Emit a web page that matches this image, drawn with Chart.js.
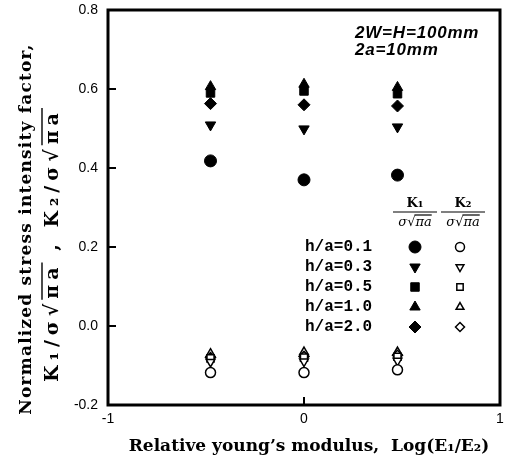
<!DOCTYPE html>
<html>
<head>
<meta charset="utf-8">
<script src="https://cdn.jsdelivr.net/npm/chart.js@4.4.1/dist/chart.umd.min.js"></script>
<style>
  body { margin: 0; background: #fff; }
  canvas { display: block; }
</style>
</head>
<body>
<canvas id="chart" width="507" height="462"></canvas>
<script>
// log(E1/E2) positions
var logRatio = [-0.477, 0, 0.477];

// K1 (filled markers)
var k1_h01 = [0.418, 0.370, 0.382];
var k1_h03 = [0.509, 0.499, 0.504];
var k1_h05 = [0.590, 0.595, 0.588];
var k1_h10 = [0.606, 0.612, 0.604];
var k1_h20 = [0.563, 0.560, 0.557];

// K2 (open markers)
var k2_h01 = [-0.118, -0.118, -0.111];
var k2_h03 = [-0.091, -0.090, -0.088];
var k2_h05 = [-0.082, -0.080, -0.078];
var k2_h10 = [-0.070, -0.066, -0.066];
var k2_h20 = [-0.080, -0.077, -0.074];

var ratioLabels = ['h/a=0.1', 'h/a=0.3', 'h/a=0.5', 'h/a=1.0', 'h/a=2.0'];
var xTicks = [-1, 0, 1];
var yTicks = [-0.2, 0.0, 0.2, 0.4, 0.6, 0.8];

var styles = [
    { pointStyle: 'circle', rotation: 0, radius: 6 },
    { pointStyle: 'triangle', rotation: 180, radius: 6 },
    { pointStyle: 'rect', rotation: 0, radius: 6 },
    { pointStyle: 'triangle', rotation: 0, radius: 6 },
    { pointStyle: 'rectRot', rotation: 0, radius: 6 }
];

function pts(vals) {
    return vals.map(function(v, i) { return { x: logRatio[i], y: v }; });
}

var k1 = [k1_h01, k1_h03, k1_h05, k1_h10, k1_h20];
var k2 = [k2_h01, k2_h03, k2_h05, k2_h10, k2_h20];
var order = [0, 1, 2, 4, 3];   // draw up-triangles last so they sit on top

var datasets = [];
order.forEach(function(i) {
    datasets.push({
        label: 'K1 ' + ratioLabels[i],
        data: pts(k1[i]),
        pointStyle: styles[i].pointStyle,
        rotation: styles[i].rotation,
        pointRadius: styles[i].radius,
        backgroundColor: '#000',
        borderColor: '#000',
        borderWidth: 1
    });
});
order.forEach(function(i) {
    datasets.push({
        label: 'K2 ' + ratioLabels[i],
        data: pts(k2[i]),
        pointStyle: styles[i].pointStyle,
        rotation: styles[i].rotation,
        pointRadius: styles[i].radius - 1,
        backgroundColor: '#fff',
        borderColor: '#000',
        borderWidth: 1.5
    });
});

function drawMarker(ctx, st, r, x, y, filled) {
    ctx.fillStyle = filled ? '#000' : '#fff';
    ctx.strokeStyle = '#000';
    ctx.lineWidth = filled ? 1 : 1.5;
    Chart.helpers.drawPoint(ctx, { pointStyle: st.pointStyle, rotation: st.rotation, radius: r, borderWidth: ctx.lineWidth }, x, y);
}

// text with an overbar on the pieces flagged true
function drawPieces(ctx, pieces, x, y, align) {
    var total = 0;
    pieces.forEach(function(p) { total += ctx.measureText(p[0]).width; });
    var cx = align === 'center' ? x - total / 2 : x;
    ctx.textAlign = 'left';
    pieces.forEach(function(p) {
        var w = ctx.measureText(p[0]).width;
        ctx.fillText(p[0], cx, y);
        if (p[1]) {
            var top = y - p[2];
            ctx.beginPath();
            ctx.moveTo(cx - 1, top);
            ctx.lineTo(cx + w, top);
            ctx.stroke();
        }
        cx += w;
    });
}

function noPad(scale) {
    scale.paddingLeft = 0;
    scale.paddingRight = 0;
    scale.paddingTop = 0;
    scale.paddingBottom = 0;
}

var decorPlugin = {
    id: 'decor',
    afterDraw: function(chart) {
        var ctx = chart.ctx, a = chart.chartArea;
        var xs = chart.scales.x, ys = chart.scales.y;
        ctx.save();
        // frame
        ctx.strokeStyle = '#000';
        ctx.lineWidth = 3;
        ctx.strokeRect(a.left, a.top, a.right - a.left, a.bottom - a.top);
        // inward ticks
        ctx.lineWidth = 2;
        ctx.beginPath();
        yTicks.forEach(function(v) {
            var py = ys.getPixelForValue(v);
            ctx.moveTo(a.left, py);
            ctx.lineTo(a.left + 8, py);
        });
        xTicks.forEach(function(v) {
            var px = xs.getPixelForValue(v);
            ctx.moveTo(px, a.bottom);
            ctx.lineTo(px, a.bottom - 8);
        });
        ctx.stroke();

        // annotation
        ctx.fillStyle = '#000';
        ctx.font = 'italic bold 17px "Liberation Sans", Arial, sans-serif';
        ctx.letterSpacing = '0.8px';
        ctx.textAlign = 'left';
        ctx.textBaseline = 'middle';
        ctx.fillText('2W=H=100mm', 355, 33);
        ctx.fillText('2a=10mm', 355, 50);
        ctx.letterSpacing = '0px';

        // legend header
        ctx.lineWidth = 1.2;
        [['K\u2081', 415], ['K\u2082', 463]].forEach(function(h) {
            ctx.font = 'bold 13px "DejaVu Serif", serif';
            ctx.textAlign = 'center';
            ctx.fillText(h[0], h[1], 204);
            ctx.beginPath();
            ctx.moveTo(h[1] - 22, 212);
            ctx.lineTo(h[1] + 22, 212);
            ctx.stroke();
            ctx.font = 'italic 13px "DejaVu Serif", serif';
            drawPieces(ctx, [['\u03c3\u221a', false], ['\u03c0a', true, 8]], h[1], 223, 'center');
        });

        // legend rows
        ctx.font = 'bold 16px "Liberation Mono", monospace';
        for (var i = 0; i < ratioLabels.length; i++) {
            var ry = 247 + i * 20;
            ctx.fillStyle = '#000';
            ctx.textAlign = 'left';
            ctx.fillText(ratioLabels[i], 305, ry);
            drawMarker(ctx, styles[i], styles[i].radius, 415, ry, true);
            drawMarker(ctx, styles[i], styles[i].radius - 1.5, 460, ry, false);
        }

        // axis titles
        ctx.fillStyle = '#000';
        ctx.strokeStyle = '#000';
        ctx.font = 'bold 17px "DejaVu Serif", serif';
        ctx.textAlign = 'center';
        ctx.textBaseline = 'middle';
        ctx.fillText('Relative young\u2019s modulus,  Log(E\u2081/E\u2082)', 309, 447);

        ctx.save();
        ctx.translate(27, 229);
        ctx.rotate(-Math.PI / 2);
        ctx.font = 'bold 17px "DejaVu Serif", serif';
        ctx.letterSpacing = '1.2px';
        ctx.fillText('Normalized stress intensity factor,', 0, 0);
        ctx.restore();

        ctx.save();
        ctx.translate(53, 245);
        ctx.rotate(-Math.PI / 2);
        ctx.font = 'bold 19px "DejaVu Serif", serif';
        ctx.letterSpacing = '5px';
        ctx.lineWidth = 1.4;
        drawPieces(ctx, [
            ['K\u2081/\u03c3\u221a', false], ['\u03c0a', true, 11],
            [' , K\u2082/\u03c3\u221a', false], ['\u03c0a', true, 11]
        ], 0, 0, 'center');
        ctx.restore();

        ctx.restore();
    }
};

new Chart(document.getElementById('chart'), {
    type: 'scatter',
    data: { datasets: datasets },
    options: {
        responsive: false,
        devicePixelRatio: 1,
        animation: false,
        layout: { padding: { left: 68, right: 3, top: 10, bottom: 37 } },
        plugins: {
            legend: { display: false },
            tooltip: { enabled: false }
        },
        scales: {
            x: {
                type: 'linear',
                min: -1,
                max: 1,
                afterBuildTicks: function(scale) {
                    scale.ticks = xTicks.map(function(v) { return { value: v }; });
                },
                afterFit: function(scale) { scale.height = 20; noPad(scale); },
                grid: { display: false, drawTicks: false },
                border: { display: false },
                ticks: {
                    color: '#000',
                    padding: 6,
                    maxRotation: 0,
                    font: { family: '"Liberation Sans", Arial, sans-serif', size: 14 },
                    callback: function(v) { return String(v); }
                }
            },
            y: {
                type: 'linear',
                min: -0.2,
                max: 0.8,
                afterBuildTicks: function(scale) {
                    scale.ticks = yTicks.map(function(v) { return { value: v }; });
                },
                afterFit: function(scale) { scale.width = 40; noPad(scale); },
                grid: { display: false, drawTicks: false },
                border: { display: false },
                ticks: {
                    color: '#000',
                    padding: 10,
                    font: { family: '"Liberation Sans", Arial, sans-serif', size: 14 },
                    callback: function(v) { return v.toFixed(1); }
                }
            }
        }
    },
    plugins: [decorPlugin]
});
</script>
</body>
</html>
